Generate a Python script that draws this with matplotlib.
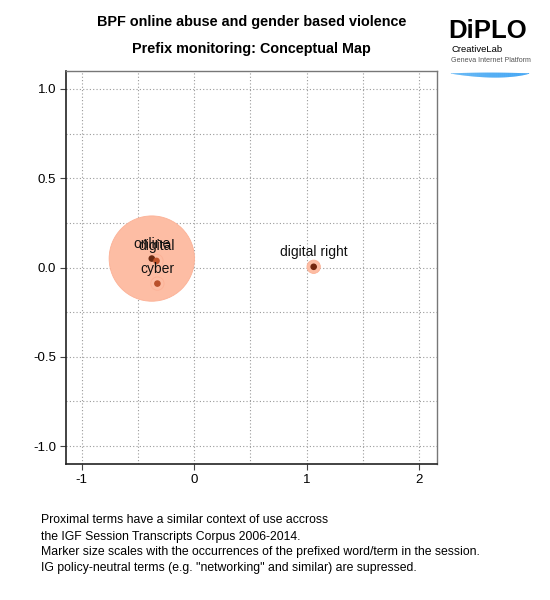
import matplotlib
matplotlib.use("Agg")
import matplotlib.pyplot as plt
from matplotlib.ticker import MultipleLocator, FixedLocator
import numpy as np

plt.rcParams['font.family'] = ['Liberation Sans', 'DejaVu Sans']
plt.rcParams['axes.unicode_minus'] = False

terms = ["online", "digital", "cyber", "digital right"]
xs = [-0.377, -0.335, -0.327, 1.063]
ys = [0.050, 0.037, -0.090, 0.004]
occurrences = [41, 1, 1, 1]
dot_colors = ["#6b2a12", "#c0532b", "#b9502b", "#74260e"]

x_ticks = [-1, 0, 1, 2]
y_ticks = [-1.0, -0.5, 0.0, 0.5, 1.0]

title1 = "BPF online abuse and gender based violence"
title2 = "Prefix monitoring: Conceptual Map"
notes = [
    "Proximal terms have a similar context of use accross",
    "the IGF Session Transcripts Corpus 2006-2014.",
    "Marker size scales with the occurrences of the prefixed word/term in the session.",
    "IG policy-neutral terms (e.g. \"networking\" and similar) are supressed.",
]

fig = plt.figure(figsize=(5.5, 6.0), dpi=100)
ax = fig.add_axes([66/550, 1-464/600, (437-66)/550, (464-71)/600])
ax.set_xlim(-1.14, 2.16)
ax.set_ylim(-1.10, 1.10)

ax.xaxis.set_major_locator(FixedLocator(x_ticks))
ax.yaxis.set_major_locator(FixedLocator(y_ticks))
ax.xaxis.set_minor_locator(MultipleLocator(0.5))
ax.yaxis.set_minor_locator(MultipleLocator(0.25))
ax.set_xticklabels([str(v) for v in x_ticks])
ax.set_yticklabels([f"{v:.1f}" for v in y_ticks])
ax.tick_params(axis='both', which='major', labelsize=9.5, length=4, width=0.8, color='#444444', pad=3)
ax.tick_params(axis='both', which='minor', length=0)
ax.grid(True, which='both', linestyle=(0, (1, 2)), color='#9a9a9a', linewidth=0.8)
ax.set_axisbelow(True)

for s in ['left', 'bottom']:
    ax.spines[s].set_color('#222222')
    ax.spines[s].set_linewidth(1.2)
for s in ['top', 'right']:
    ax.spines[s].set_color('#777777')
    ax.spines[s].set_linewidth(1.0)

sizes = [o * 92 for o in occurrences]
ax.scatter(xs, ys, s=sizes, color='#fdbda4', edgecolors='#fcb196', linewidths=0.6, zorder=2)
ax.scatter(xs, ys, s=14, color=dot_colors, zorder=3)

for t, x, y in zip(terms, xs, ys):
    ax.annotate(t, (x, y), xytext=(0, 10.5), textcoords='offset points', ha='center', va='center',
                fontsize=10, color='#111111', zorder=4)

fig.text(251.5/550, 1-22/600, title1, ha='center', va='center', fontsize=10.4, fontweight='bold')
fig.text(251.5/550, 1-49/600, title2, ha='center', va='center', fontsize=10.4, fontweight='bold')

note_y = [520, 537, 552, 568]
for t, y in zip(notes, note_y):
    fig.text(41/550, 1-y/600, t, ha='left', va='center', fontsize=8.8)

# logo
fig.text(448/550, 1-31/600, "DiPLO", ha='left', va='center', fontsize=18.5, fontweight='heavy', color='black')
fig.text(451/550, 1-50/600, "CreativeLab", ha='left', va='center', fontsize=6.8, color='black')
fig.text(451/550, 1-61/600, "Geneva Internet Platform", ha='left', va='center', fontsize=5.1, color='#555555')
lax = fig.add_axes([450/550, 1-77/600, 79/550, 7/600])
lax.set_axis_off()
lax.set_xlim(0, 1); lax.set_ylim(0, 1)
xx = np.linspace(0, 1, 120)
top = 0.6 + 0.1 * np.sin(np.pi * xx)
bot = 0.6 - 0.75 * np.sin(np.pi * xx) ** 0.7 * (0.6 + 0.4 * xx)
for i in range(len(xx) - 1):
    c = (0.25 - 0.2 * xx[i], 0.65 - 0.1 * xx[i], 0.95)
    lax.fill_between(xx[i:i+2], bot[i:i+2], top[i:i+2], color=c, linewidth=0)

fig.savefig("out.png", dpi=100)
